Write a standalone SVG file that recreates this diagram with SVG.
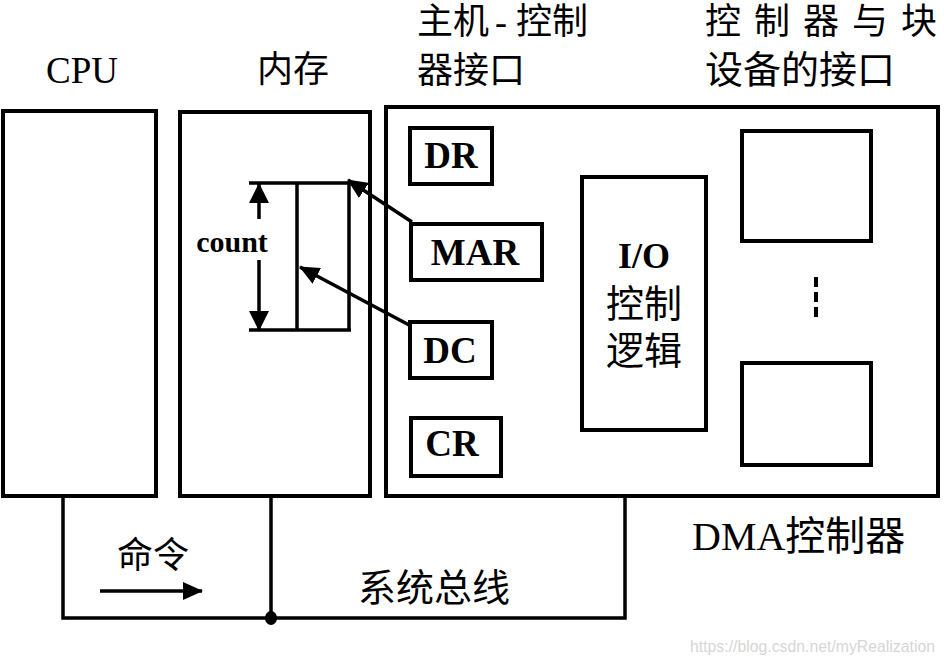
<svg xmlns="http://www.w3.org/2000/svg" width="944" height="665" viewBox="0 0 944 665">
<defs>
<style>
.box{fill:#fff;stroke:#000;stroke-width:4}
.ln{fill:none;stroke:#000;stroke-width:3.5}
.t{font-family:"Liberation Serif","Noto Sans CJK SC",serif;fill:#000}
.b{font-weight:bold}
</style>
<marker id="ah" viewBox="0 0 20 18" refX="19" refY="9" markerWidth="20" markerHeight="18" markerUnits="userSpaceOnUse" orient="auto-start-reverse">
<path d="M0,0 L20,9 L0,18 z" fill="#000"/>
</marker>
<marker id="ah2" viewBox="0 0 20 20" refX="19" refY="10" markerWidth="20" markerHeight="20" markerUnits="userSpaceOnUse" orient="auto-start-reverse">
<path d="M0,0 L20,10 L0,20 z" fill="#000"/>
</marker>
</defs>
<rect width="944" height="665" fill="#fff"/>

<g id="labels">
<text class="t" x="82" y="83" font-size="37" text-anchor="middle">CPU</text>
<text class="t" x="257" y="82" font-size="36">内存</text>
<text class="t" y="34" font-size="36"><tspan x="417">主机</tspan><tspan x="495">-</tspan><tspan x="516">控制</tspan></text>
<text class="t" x="417" y="83" font-size="36">器接口</text>
<text class="t" font-size="36" y="34"><tspan x="705">控</tspan><tspan x="754">制</tspan><tspan x="803">器</tspan><tspan x="852">与</tspan><tspan x="901">块</tspan></text>
<text class="t" x="705" y="83" font-size="38">设备的接口</text>
<text class="t" x="692" y="550" font-size="40">DMA控制器</text>
<text class="t" x="117" y="568" font-size="36">命令</text>
<text class="t" x="358" y="601" font-size="38">系统总线</text>
</g>

<g id="cpu"><rect class="box" x="3" y="111" width="153" height="385"/></g>

<g id="memory">
<rect class="box" x="180" y="112" width="190" height="384"/>
<path class="ln" d="M249,183 H352 M249,330 H351 M297,183 V330 M349,183 V330"/>
<text class="t b" x="232" y="252" font-size="30" text-anchor="middle">count</text>
</g>

<g id="dma">
<rect class="box" x="386" y="107" width="552" height="389"/>
</g>
<g id="dr"><rect class="box" x="410" y="128" width="82" height="56"/><text class="t b" x="451" y="168" font-size="37" text-anchor="middle">DR</text></g>
<g id="mar"><rect class="box" x="411" y="224" width="131" height="56"/><text class="t b" x="475" y="265" font-size="37" text-anchor="middle">MAR</text></g>
<g id="dc"><rect class="box" x="410" y="322" width="82" height="56"/><text class="t b" x="450" y="363" font-size="37" text-anchor="middle">DC</text></g>
<g id="cr"><rect class="box" x="411" y="418" width="90" height="58"/><text class="t b" x="452" y="456" font-size="37" text-anchor="middle">CR</text></g>
<g id="io">
<rect class="box" x="582" y="177" width="124" height="253"/>
<text class="t b" x="644" y="268" font-size="36" text-anchor="middle">I/O</text>
<text class="t" x="644" y="317" font-size="38" text-anchor="middle">控制</text>
<text class="t" x="644" y="364" font-size="38" text-anchor="middle">逻辑</text>
</g>
<g id="dev1"><rect class="box" x="742" y="131" width="129" height="110"/></g>
<g id="dev2"><rect class="box" x="742" y="363" width="129" height="102"/></g>
<g id="dots"><path d="M816,277 V317" stroke="#000" stroke-width="4" stroke-dasharray="10,5"/></g>

<g id="connectors">
<line class="ln" x1="259" y1="219" x2="259" y2="184" marker-end="url(#ah2)"/>
<line class="ln" x1="259" y1="260" x2="259" y2="330" marker-end="url(#ah2)"/>
<line class="ln" x1="412" y1="222" x2="348" y2="180" marker-end="url(#ah)"/>
<line class="ln" x1="411" y1="326" x2="300" y2="267" marker-end="url(#ah)"/>
<path class="ln" d="M63,496 V618 H625 V496 M271,496 V618"/>
<ellipse cx="271" cy="618" rx="6" ry="7" fill="#000"/>
<line x1="100" y1="591" x2="202" y2="591" stroke="#000" stroke-width="3.5" marker-end="url(#ah)"/>
</g>

<text x="690" y="652" font-family="Liberation Sans, sans-serif" font-size="16" fill="#d6d6d6" textLength="245" lengthAdjust="spacingAndGlyphs">https://blog.csdn.net/myRealization</text>
</svg>
